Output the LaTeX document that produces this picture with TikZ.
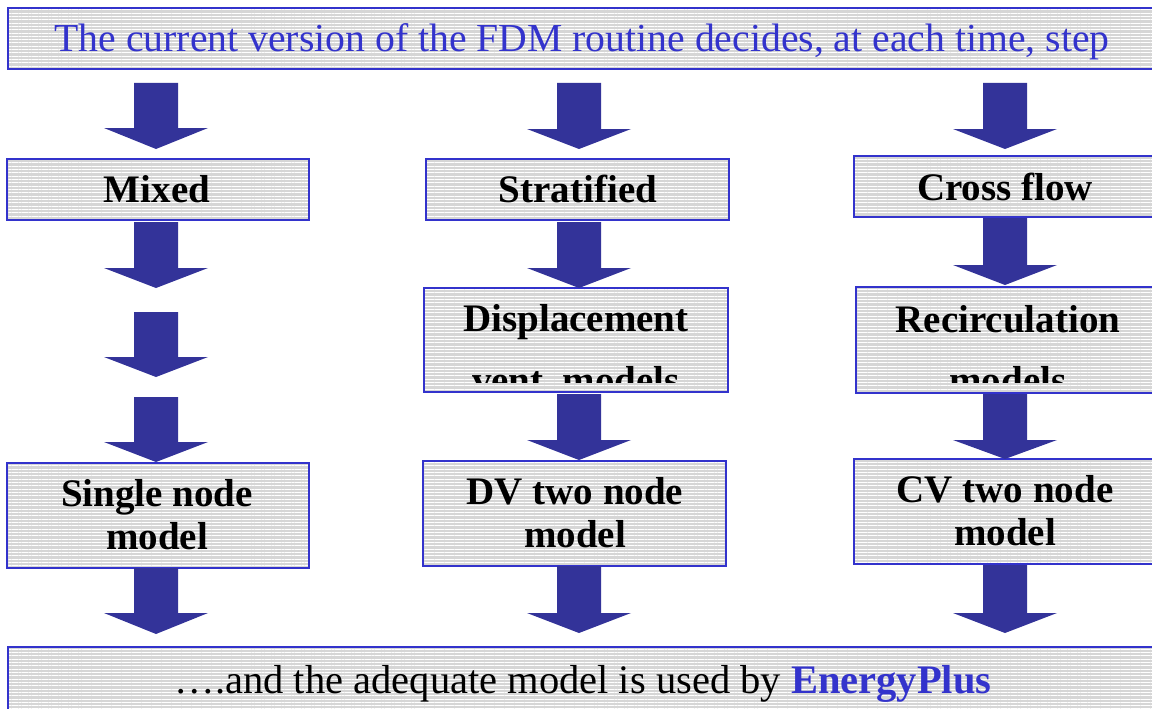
\documentclass[tikz,border=0pt]{standalone}
\usepackage{fontspec}
\setmainfont{Liberation Serif}
\usetikzlibrary{patterns.meta}
\definecolor{bord}{HTML}{3333CC}
\definecolor{arrc}{HTML}{333399}
\definecolor{txtblue}{HTML}{3333CC}
\definecolor{boxgray}{HTML}{D6D6D6}
\tikzset{
  box/.style={draw=bord, line width=2pt,
    preaction={fill=boxgray},
    pattern={Lines[angle=0,distance=3.33pt,line width=1pt]}, pattern color=white},
  lbl/.style={anchor=base, inner sep=0pt, font=\fontsize{39}{43}\selectfont\bfseries, text=black},
  reg/.style={anchor=base, inner sep=0pt},
  blockarrow/.style={fill=arrc}
}
\newcommand{\barrow}[4]{%
  \fill[blockarrow] ({#1-22},#2) -- ({#1+22},#2) -- ({#1+22},#3) -- ({#1+52},#3)
    -- (#1,#4) -- ({#1-52},#3) -- ({#1-22},#3) -- cycle;}
\begin{document}
\begin{tikzpicture}[x=1pt,y=-1pt]
\useasboundingbox (0,0) rectangle (1152,709);
\clip (0,0) rectangle (1152,709);
% boxes
\path[box] (8,8) rectangle (1165,69);
\path[box] (7,159) rectangle (309,220);
\path[box] (426,159) rectangle (729,220);
\path[box] (854,156) rectangle (1165,217);
\path[box] (424,288) rectangle (728,392);
\path[box] (856,287) rectangle (1165,393);
\path[box] (7,463) rectangle (309,568);
\path[box] (423,461) rectangle (726,566);
\path[box] (854,459) rectangle (1165,564);
\path[box] (8,647) rectangle (1165,715);
% texts
\node[reg, text=txtblue, font=\fontsize{39.7}{43}\selectfont] (ttop) at (582,52) {The current version of the FDM routine decides, at each time, step};
\node[lbl] (tmixed) at (157,202) {Mixed};
\node[lbl] (tstrat) at (578,202) {Stratified};
\node[lbl] (tcross) at (1005,200) {Cross flow};
\begin{scope}
  \clip (424,288) rectangle (728,382);
  \node[lbl] (tdisp1) at (576,331) {Displacement};
  \node[lbl] (tdisp2) at (576,393) {vent\ \ models};
\end{scope}
\begin{scope}
  \clip (856,287) rectangle (1165,382);
  \node[lbl] (trec1) at (1008,332) {Recirculation};
  \node[lbl] (trec2) at (1008,393) {models};
\end{scope}
\node[lbl] (tsing1) at (157,506) {Single node};
\node[lbl] (tsing2) at (157,549) {model};
\node[lbl] (tdv1) at (575,504) {DV two node};
\node[lbl] (tdv2) at (575,547) {model};
\node[lbl] (tcv1) at (1005,502) {CV two node};
\node[lbl] (tcv2) at (1005,545) {model};
\node[reg, font=\fontsize{40.5}{44}\selectfont] (tbot) at (583,693) {….and the adequate model is used by \textcolor{txtblue}{\bfseries EnergyPlus}};
% arrows column 1
\barrow{156}{83}{128}{149}
\barrow{156}{222}{268}{288}
\barrow{156}{312}{357}{377}
\barrow{156}{397}{442}{462}
\barrow{156}{568}{613}{634}
% column 2
\barrow{579}{83}{129}{149}
\barrow{579}{222}{268}{288}
\barrow{579}{394}{440}{460}
\barrow{579}{566}{613}{633}
% column 3
\barrow{1005}{83}{129}{149}
\barrow{1005}{218}{265}{285}
\barrow{1005}{394}{440}{459}
\barrow{1005}{565}{613}{633}
\end{tikzpicture}
\end{document}
